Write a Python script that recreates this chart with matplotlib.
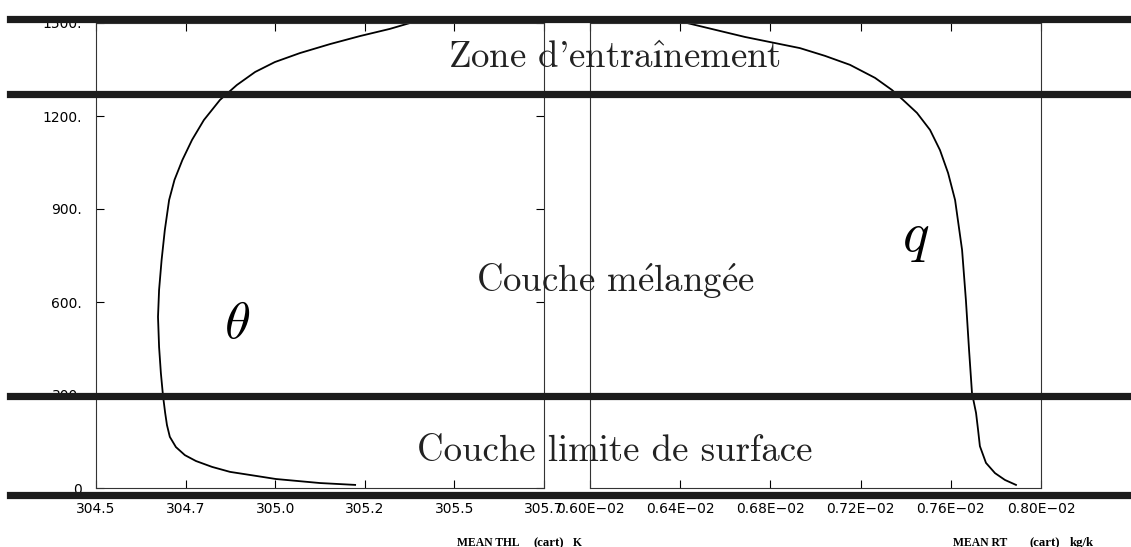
import numpy as np
import matplotlib
matplotlib.use('Agg')
import matplotlib.pyplot as plt
from matplotlib.lines import Line2D

plt.rcParams['mathtext.fontset'] = 'cm'

# mean liquid potential temperature profile (K) against height (m)
z_thl = [10, 16, 29, 42, 52, 68, 87, 106, 132, 165, 203, 242, 297, 371, 455,
         552, 639, 735, 832, 929, 994, 1058, 1123, 1187, 1252, 1300, 1342,
         1374, 1403, 1432, 1458, 1481, 1500, 1530]
thl = [305.223, 305.125, 305.002, 304.930, 304.874, 304.824, 304.779, 304.748,
       304.723, 304.706, 304.698, 304.693, 304.687, 304.681, 304.676, 304.673,
       304.676, 304.683, 304.692, 304.704, 304.719, 304.741, 304.768, 304.801,
       304.846, 304.893, 304.944, 304.999, 305.069, 305.153, 305.237, 305.320,
       305.376, 305.47]

# mean total water mixing ratio (kg/kg) against height (m)
z_rt = [10, 26, 48, 81, 135, 187, 242, 306, 445, 606, 768, 929, 1016, 1090,
        1155, 1210, 1252, 1284, 1323, 1365, 1394, 1419, 1455, 1500, 1530]
rt = [0.007889, 0.007840, 0.007796, 0.007756, 0.007729, 0.007721, 0.007712,
      0.007694, 0.007681, 0.007667, 0.007650, 0.007619, 0.007588, 0.007552,
      0.007508, 0.007450, 0.007388, 0.007339, 0.007264, 0.007153, 0.007042,
      0.006931, 0.006687, 0.006430, 0.006244]

thl_ticks = [304.5, 304.75, 305.0, 305.25, 305.5, 305.75]
thl_labels = ['304.5', '304.7', '305.0', '305.2', '305.5', '305.7']
rt_ticks = [0.0060, 0.0064, 0.0068, 0.0072, 0.0076, 0.0080]
rt_labels = ['0.60E\u221202', '0.64E\u221202', '0.68E\u221202',
             '0.72E\u221202', '0.76E\u221202', '0.80E\u221202']
z_ticks = [0, 300, 600, 900, 1200, 1500]
z_labels = ['0', '300.', '600.', '900.', '1200.', '1500.']

# heights (pixels from top) of the layer boundaries drawn as thick bars
bar_rows = [18.5, 93.5, 396, 494.5]

W, H = 1131, 547
fig = plt.figure(figsize=(W / 100, H / 100), dpi=100)


def px(x, y):
    return x / W, 1 - y / H


ax1 = fig.add_axes([96 / W, 1 - 488 / H, 448 / W, 465 / H])
ax2 = fig.add_axes([590 / W, 1 - 488 / H, 451 / W, 465 / H])

ax1.plot(thl, z_thl, color='black', lw=1.3)
ax2.plot(rt, z_rt, color='black', lw=1.3)

for ax in (ax1, ax2):
    ax.set_ylim(0, 1500)
    for sp in ax.spines.values():
        sp.set_linewidth(0.8)
        sp.set_color('#333333')
    ax.tick_params(direction='in', length=6, width=0.8, pad=10,
                   labelsize=10, colors='black', top=True)

ax1.set_xlim(304.5, 305.75)
ax1.set_xticks(thl_ticks)
ax1.set_xticklabels(thl_labels, fontfamily='DejaVu Sans')
ax1.set_yticks(z_ticks)
ax1.set_yticklabels(z_labels, fontfamily='DejaVu Sans')
ax1.tick_params(right=True)

ax2.set_xlim(0.006, 0.008)
ax2.set_xticks(rt_ticks)
ax2.set_xticklabels(rt_labels, fontfamily='DejaVu Sans')
ax2.set_yticks([])

# layer names in Computer Modern look
big = dict(fontfamily='cmr10', fontsize=26.5, ha='center', va='baseline', color='#222222')
fig.text(*px(614, 68), "Zone d'entra$\\mathrm{\\hat{\u0131}}$nement", **big)
fig.text(*px(615, 292), 'Couche m$\\mathrm{\\acute{e}}$lang$\\mathrm{\\acute{e}}$e', **big)
fig.text(*px(615, 461), 'Couche limite de surface', **big)

fig.text(*px(237, 338), r'$\theta$', fontsize=38, ha='center', va='baseline')
fig.text(*px(916, 251), r'$q$', fontsize=40, ha='center', va='baseline')

# axis captions under the tick labels
small = dict(fontfamily='Liberation Serif', fontweight='bold', fontsize=8.4,
             va='baseline', ha='left')
fig.text(*px(457, 546), 'MEAN THL', **small)
fig.text(*px(533, 546), '(cart)', **dict(small, fontsize=9.2))
fig.text(*px(573, 546), 'K', **small)
fig.text(*px(953, 546), 'MEAN RT', **small)
fig.text(*px(1030, 546), '(cart)', **dict(small, fontsize=9.2))
fig.text(*px(1070, 546), 'kg/k', **dict(small, fontsize=9.2))

for y in bar_rows:
    fig.add_artist(Line2D([10 / W, 1.0], [1 - y / H, 1 - y / H],
                          transform=fig.transFigure, lw=5.2,
                          color='#1c1c1c', zorder=10))

fig.savefig('out.png', dpi=100)
